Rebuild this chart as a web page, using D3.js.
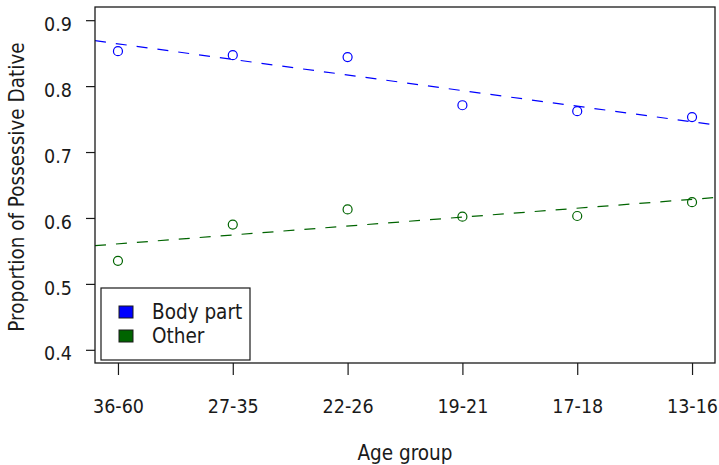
<!DOCTYPE html>
<html>
<head>
<meta charset="utf-8">
<script src="https://cdn.jsdelivr.net/npm/d3@7"></script>
<style>
  body { margin: 0; background: #fff; }
  svg text { font-family: "DejaVu Sans Condensed", "DejaVu Sans", sans-serif; fill: #1a1a1a; }
</style>
</head>
<body>
<svg id="chart" width="719" height="465"></svg>
<script>
const ageGroups = ["36-60", "27-35", "22-26", "19-21", "17-18", "13-16"];
const bodyPart = [0.853, 0.847, 0.844, 0.771, 0.762, 0.753];
const other = [0.535, 0.590, 0.613, 0.602, 0.603, 0.624];
const yTicks = [0.4, 0.5, 0.6, 0.7, 0.8, 0.9];
const seriesNames = ["Body part", "Other"];
const seriesColors = ["#0000ff", "#006400"];

let margin = { top: 7, right: 4, bottom: 102, left: 95 },
    width = 719 - margin.left - margin.right,
    height = 465 - margin.top - margin.bottom;

let svg = d3.select("#chart");
let g = svg.append("g")
    .attr("transform", "translate(" + margin.left + "," + margin.top + ")");

// R style: 4% padding on both axes
let x = d3.scaleLinear().domain([0.8, 6.2]).range([0, width]);
let y = d3.scaleLinear().domain([0.38, 0.92]).range([height, 0]);

// least squares fit, like abline(lm(...))
function fit(vals) {
    let xs = vals.map((d, i) => i + 1);
    let mx = d3.mean(xs), my = d3.mean(vals);
    let sxy = d3.sum(xs, (xi, i) => (xi - mx) * (vals[i] - my));
    let sxx = d3.sum(xs, xi => (xi - mx) * (xi - mx));
    let b = sxy / sxx;
    return { a: my - b * mx, b: b };
}

g.append("clipPath").attr("id", "plotclip")
    .append("rect").attr("width", width).attr("height", height);

[bodyPart, other].forEach((vals, k) => {
    let f = fit(vals);
    let xd = x.domain();
    g.append("line")
        .attr("clip-path", "url(#plotclip)")
        .attr("x1", x(xd[0])).attr("y1", y(f.a + f.b * xd[0]))
        .attr("x2", x(xd[1])).attr("y2", y(f.a + f.b * xd[1]))
        .attr("stroke", seriesColors[k])
        .attr("stroke-width", 1.2)
        .attr("stroke-dasharray", "11,10");

    g.selectAll(".pt" + k)
        .data(vals)
        .enter().append("circle")
        .attr("class", "pt" + k)
        .attr("cx", (d, i) => x(i + 1))
        .attr("cy", d => y(d))
        .attr("r", 4.5)
        .attr("fill", "none")
        .attr("stroke", seriesColors[k])
        .attr("stroke-width", 1.2);
});

// box
g.append("rect")
    .attr("width", width).attr("height", height)
    .attr("fill", "none").attr("stroke", "#1a1a1a").attr("stroke-width", 1.3);

// y axis
let yAxis = g.append("g")
    .call(d3.axisLeft(y).tickValues(yTicks).tickSize(9).tickPadding(14).tickFormat(d3.format(".1f")));
yAxis.select(".domain").remove();
yAxis.selectAll("line").attr("stroke", "#1a1a1a").attr("stroke-width", 1.2);
yAxis.selectAll("text").attr("font-size", 19.5).attr("dy", "0.52em");

// x axis
let xAxis = g.append("g")
    .attr("transform", "translate(0," + height + ")")
    .call(d3.axisBottom(x).tickValues(d3.range(1, 7)).tickSize(12)
        .tickFormat(d => ageGroups[d - 1]));
xAxis.select(".domain").remove();
xAxis.selectAll("line").attr("stroke", "#1a1a1a").attr("stroke-width", 1.2);
xAxis.selectAll("text").attr("font-size", 19.5).attr("dy", null).attr("y", 50);

// axis titles
svg.append("text")
    .attr("x", margin.left + width / 2)
    .attr("y", 460)
    .attr("text-anchor", "middle")
    .attr("font-size", 20.5)
    .text("Age group");

svg.append("text")
    .attr("transform", "translate(24," + (margin.top + height / 2 + 2) + ") rotate(-90)")
    .attr("text-anchor", "middle")
    .attr("font-size", 20.5)
    .text("Proportion of Possessive Dative");

// legend
let legend = svg.append("g").attr("transform", "translate(101,288)");
legend.append("rect")
    .attr("width", 149).attr("height", 72)
    .attr("fill", "#fff").attr("stroke", "#1a1a1a").attr("stroke-width", 1.2);
seriesNames.forEach((name, k) => {
    legend.append("rect")
        .attr("x", 18).attr("y", 18 + k * 24)
        .attr("width", 14).attr("height", 12)
        .attr("fill", seriesColors[k]).attr("stroke", "#1a1a1a").attr("stroke-width", 1);
    legend.append("text")
        .attr("x", 51).attr("y", 31 + k * 24)
        .attr("font-size", 20.5)
        .text(name);
});
</script>
</body>
</html>
